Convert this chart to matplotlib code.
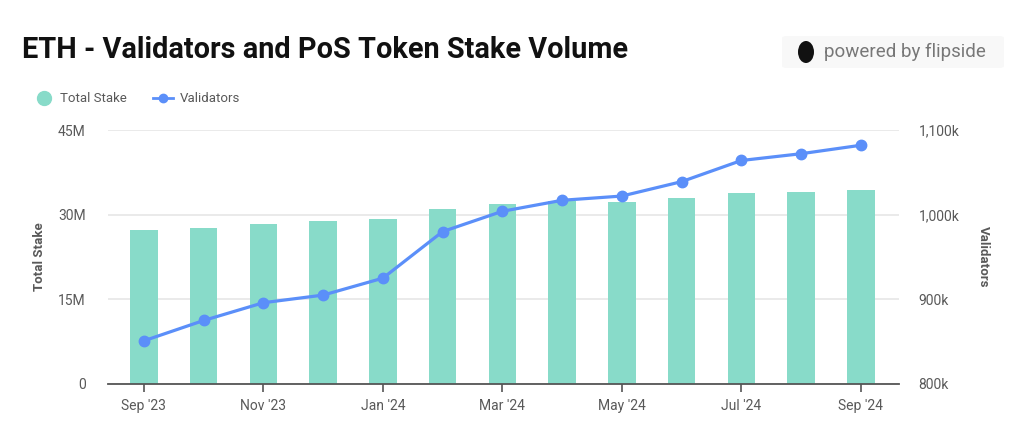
import matplotlib
matplotlib.use("Agg")
import matplotlib.pyplot as plt
from matplotlib.patches import FancyBboxPatch, Ellipse
from matplotlib.lines import Line2D
import numpy as np

months = ["Sep '23", "Oct '23", "Nov '23", "Dec '23", "Jan '24", "Feb '24", "Mar '24",
          "Apr '24", "May '24", "Jun '24", "Jul '24", "Aug '24", "Sep '24"]
total_stake_m = [27.2, 27.7, 28.4, 28.9, 29.3, 31.0, 31.9, 32.4, 32.3, 33.0, 33.9, 34.1, 34.3]
validators_k = [851, 875, 896, 905, 925, 980, 1004, 1017, 1022, 1039, 1064, 1072, 1082]
left_ticks = [0, 15, 30, 45]
left_labels = ["0", "15M", "30M", "45M"]
right_ticks = [800, 900, 1000, 1100]
right_labels = ["800k", "900k", "1,000k", "1,100k"]

BAR = "#88dbc9"
LINE = "#5b8ff9"
GRID = "#e6e6e6"
TXT = "#595959"

plt.rcParams['font.family'] = ['Roboto', 'DejaVu Sans']

fig = plt.figure(figsize=(10.24, 4.36), dpi=100)
ax = fig.add_axes([0.1055, 0.1193, 0.7725, 0.5825])
ax2 = ax.twinx()

x = np.arange(len(months))
ax.bar(x, total_stake_m, width=0.46, color=BAR, zorder=2)
ax.set_ylim(0, 45)
ax.set_xlim(-0.6, len(months) - 0.36)
ax.set_yticks(left_ticks)
ax.set_yticklabels(left_labels)
ax.yaxis.grid(True, color=GRID, linewidth=1.2, zorder=0)
ax.set_axisbelow(True)

ax2.plot(x, validators_k, color=LINE, linewidth=2.3, marker='o', markersize=7.5, zorder=3)
ax2.set_ylim(800, 1100)
ax2.set_yticks(right_ticks)
ax2.set_yticklabels(right_labels)

ax.set_xticks(x[::2])
ax.set_xticklabels(months[::2])

for a in (ax, ax2):
    for s in ("top", "left", "right"):
        a.spines[s].set_visible(False)
    a.spines["bottom"].set_visible(a is ax)
ax.spines["bottom"].set_color("#555555")
ax.spines["bottom"].set_linewidth(1.3)
ax.tick_params(axis='x', length=6, width=1.2, color="#555555", labelsize=10, labelcolor=TXT, pad=5)
ax.tick_params(axis='y', length=0, labelsize=10, labelcolor=TXT, pad=16)
ax2.tick_params(axis='y', length=0, labelsize=10, labelcolor=TXT, pad=14)

ax.set_ylabel("Total Stake", fontsize=9.5, fontweight='bold', color=TXT, labelpad=9)
ax2.set_ylabel("Validators", fontsize=9.5, fontweight='bold', color=TXT, rotation=-90, labelpad=22)

# Title
fig.text(22/1024, 1 - 50/436, "ETH - Validators and PoS Token Stake Volume",
         fontsize=20.8, fontweight='bold', color="#111111", va='center', ha='left')

# powered by flipside badge
badge = FancyBboxPatch((782/1024, 1 - 68/436), 222/1024, 32/436,
                       boxstyle="round,pad=0,rounding_size=0.005",
                       transform=fig.transFigure, facecolor="#f8f8f8", edgecolor="none")
fig.patches.append(badge)
logo = Ellipse((806/1024, 1 - 52/436), 16/1024, 22/436, transform=fig.transFigure,
               facecolor="#111111", edgecolor="none")
fig.patches.append(logo)
fig.text(824/1024, 1 - 52/436, "powered by flipside", fontsize=13.5, color="#777777",
         va='center', ha='left')

# Legend
fig.add_artist(Line2D([44/1024], [1 - 98/436], marker='o', markersize=10,
                      color=BAR, linestyle='none', transform=fig.transFigure))
fig.text(60/1024, 1 - 98/436, "Total Stake", fontsize=9.5, color=TXT, va='center')
fig.add_artist(Line2D([153/1024, 173/1024], [1 - 98/436, 1 - 98/436], color=LINE,
                      linewidth=2, transform=fig.transFigure))
fig.add_artist(Line2D([163/1024], [1 - 98/436], marker='o', markersize=6,
                      color=LINE, linestyle='none', transform=fig.transFigure))
fig.text(180/1024, 1 - 98/436, "Validators", fontsize=9.5, color=TXT, va='center')

fig.savefig("out.png", dpi=100, facecolor="white")
